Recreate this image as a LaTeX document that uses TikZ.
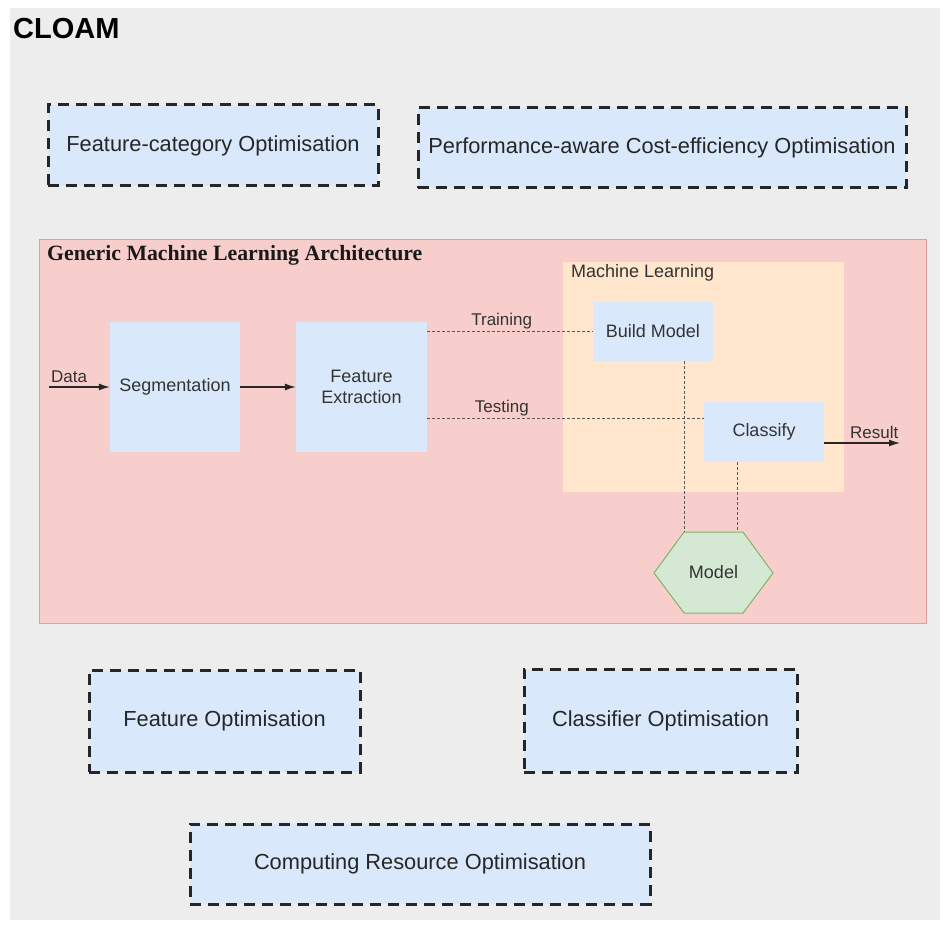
\documentclass[tikz,border=0pt]{standalone}
\usepackage{fontspec}
\setmainfont{Liberation Sans}
\newfontfamily\archserif{Liberation Serif}
\usetikzlibrary{arrows.meta}
\definecolor{bgGray}{HTML}{EDEDED}
\definecolor{optBlue}{HTML}{DAE8FC}
\definecolor{archPink}{HTML}{F8CECC}
\definecolor{archLine}{HTML}{D9A09C}
\definecolor{mlOrange}{HTML}{FFE6CC}
\definecolor{modGreen}{HTML}{D5E8D4}
\definecolor{modLine}{HTML}{82B366}
\tikzset{
  optbox/.style={draw=black!85, line width=3pt, dash pattern=on 11pt off 7pt,
    fill=optBlue, text=black!85, font=\fontsize{21.8}{26}\selectfont},
  procbox/.style={fill=optBlue, text=black!80, align=center,
    font=\fontsize{18}{21}\selectfont},
  lbl/.style={text=black!80, inner sep=1.5pt, font=\fontsize{17}{20}\selectfont},
  link/.style={draw=black!65, line width=1pt, dash pattern=on 3pt off 2pt},
  flow/.style={-{Latex[length=11pt,width=7pt]}, line width=1.2pt, draw=black!85}
}
\begin{document}
\begin{tikzpicture}[x=1pt,y=-1pt]
\useasboundingbox (0,0) rectangle (945,925);
\fill[white] (0,0) rectangle (945,925);
\fill[bgGray] (10,8) rectangle (940,920);
\node[anchor=north west, inner sep=0pt, font=\bfseries\fontsize{29}{32}\selectfont] (cloam) at (13,18) {CLOAM};

% optimisation boxes
\node[optbox, minimum width=330, minimum height=81] (fco) at (213,145.5) {Feature-category Optimisation};
\node[optbox, minimum width=488, minimum height=80] (pco) at (662,148) {Performance-aware Cost-efficiency Optimisation};
\node[optbox, minimum width=271, minimum height=102] (fo) at (224.5,721) {Feature Optimisation};
\node[optbox, minimum width=273, minimum height=103] (co) at (660.5,720.5) {Classifier Optimisation};
\node[optbox, minimum width=460, minimum height=80] (cro) at (420,864) {Computing Resource Optimisation};

% architecture
\node[draw=archLine, fill=archPink, line width=1pt, minimum width=887, minimum height=383] (arch) at (482.5,431.5) {};
\node[anchor=north west, inner sep=0pt, font=\archserif\bfseries\fontsize{21.8}{24}\selectfont, text=black!90] (archttl) at (47,245) {Generic Machine Learning Architecture};
\node[fill=mlOrange, minimum width=281, minimum height=230] (ml) at (703.5,377) {};
\node[anchor=north west, lbl, inner sep=0pt, font=\fontsize{18}{21}\selectfont] (mlttl) at (571,264) {Machine Learning};

\node[procbox, minimum width=130, minimum height=130] (seg) at (175,387) {Segmentation};
\node[procbox, minimum width=131, minimum height=130] (fe) at (361.5,387) {Feature\\Extraction};
\node[procbox, minimum width=120, minimum height=59] (bm) at (653,331.5) {Build Model};
\node[procbox, minimum width=120, minimum height=60] (cl) at (764,432) {Classify};
\fill[modGreen, draw=modLine, line width=1pt] (654,573) -- (684,532) -- (743,532) -- (773,573) -- (743,613) -- (684,613) -- cycle;
\node[lbl, font=\fontsize{18}{21}\selectfont, minimum width=119, minimum height=81] (model) at (713.5,572.5) {Model};

\coordinate (data) at (49,387);
\coordinate (res) at (900,443);
\draw[flow] (data) -- (seg.west) node[lbl, above, inner sep=4pt, pos=0.33] {Data};
\draw[flow] (seg) -- (fe);
\draw[link] (fe.east |- bm.west) -- (bm.west) node[lbl, above, pos=0.45] {Training};
\draw[link] ([yshift=14pt]cl.west -| fe.east) -- ([yshift=14pt]cl.west) node[lbl, above, pos=0.27] {Testing};
\draw[link] ([xshift=31pt]bm.south) -- ([xshift=31pt]bm.south |- model.north);
\draw[link] ([xshift=-27pt]cl.south) -- ([xshift=-27pt]cl.south |- model.north);
\draw[flow] ([yshift=-11pt]cl.east) -- (res) node[lbl, above, inner sep=4pt, pos=0.66] {Result};
\end{tikzpicture}
\end{document}
